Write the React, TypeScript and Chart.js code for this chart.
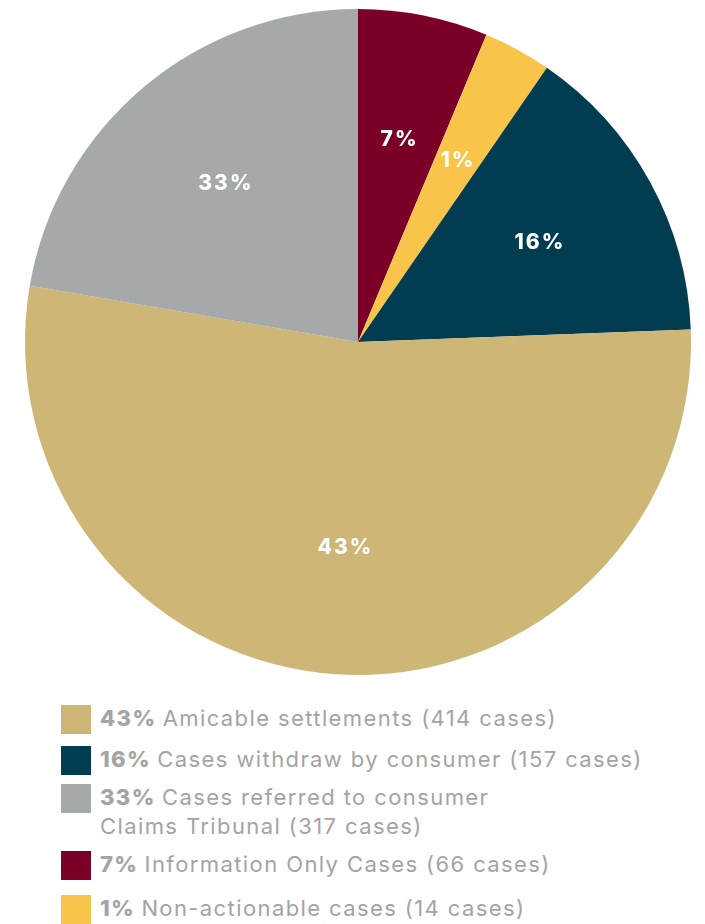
import React, { useEffect, useRef } from "react";
import { Chart, registerables } from "chart.js";

Chart.register(...registerables);

// Slices in drawing order (clockwise from 12 o'clock)
const sliceLabels = [
  "Information Only Cases",
  "Non-actionable cases",
  "Cases withdraw by consumer",
  "Amicable settlements",
  "Cases referred to consumer\nClaims Tribunal",
];
// Slice sizes as drawn in the picture (share of the full circle)
const sliceShares = [6.3, 3.3, 14.8, 53.3, 22.3];
const percentLabels = ["7%", "1%", "16%", "43%", "33%"];
const caseCounts = [66, 14, 157, 414, 317];
const sliceColors = ["#7a0027", "#f8c54a", "#023c50", "#ceb676", "#a6a9aa"];
// Legend order (indexes into the slice arrays)
const legendOrder = [3, 2, 4, 0, 1];

const labelPlugin = {
  id: "sliceLabels",
  afterDatasetsDraw(chart: any) {
    const ctx = chart.ctx;
    const meta = chart.getDatasetMeta(0);
    ctx.save();
    ctx.fillStyle = "#ffffff";
    ctx.font = "800 21px Inter";
    try {
      (ctx as any).letterSpacing = "2px";
    } catch (e) {}
    ctx.textAlign = "center";
    ctx.textBaseline = "middle";
    meta.data.forEach((arc: any, i: number) => {
      const p = arc.getProps(["x", "y", "startAngle", "endAngle", "outerRadius"], true);
      const mid = (p.startAngle + p.endAngle) / 2;
      const r = p.outerRadius * 0.62;
      ctx.fillText(percentLabels[i], p.x + Math.cos(mid) * r + 1, p.y + Math.sin(mid) * r);
    });
    ctx.restore();
  },
};

const rowStyles = [
  { top: 704 },
  { top: 745 },
  { top: 783 },
  { top: 850 },
  { top: 894 },
];

export default function App() {
  const ref = useRef<HTMLCanvasElement | null>(null);

  useEffect(() => {
    if (!ref.current) return;
    const chart = new Chart(ref.current, {
      type: "pie",
      data: {
        labels: sliceLabels,
        datasets: [
          {
            data: sliceShares,
            backgroundColor: sliceColors,
            borderWidth: 0,
            hoverOffset: 0,
          },
        ],
      },
      options: {
        animation: false,
        responsive: false,
        radius: 333,
        layout: { padding: { left: 11, top: 0, right: 0, bottom: 0 } },
        plugins: {
          legend: { display: false },
          tooltip: { enabled: false },
        },
        events: [],
      },
      plugins: [labelPlugin],
    });
    return () => chart.destroy();
  }, []);

  return (
    <div
      style={{
        position: "absolute",
        left: 0,
        top: 0,
        width: 705,
        height: 924,
        overflow: "hidden",
        background: "#ffffff",
        fontFamily: "Inter, sans-serif",
      }}
    >
      <canvas ref={ref} width={705} height={684} style={{ position: "absolute", left: 0, top: 0 }} />
      {legendOrder.map((idx, k) => {
        const lines = sliceLabels[idx].split("\n");
        return (
          <div
            key={k}
            style={{
              position: "absolute",
              left: 61,
              top: rowStyles[k].top,
              display: "flex",
              alignItems: "flex-start",
            }}
          >
            <div style={{ width: 30, height: 29, marginTop: 1, background: sliceColors[idx], flex: "none" }} />
            <div
              style={{
                marginLeft: 9,
                fontSize: 22,
                lineHeight: "29px",
                color: "#a3a4a6",
                letterSpacing: "1.4px",
                whiteSpace: "nowrap",
              }}
            >
              {lines.map((ln, j) => (
                <div key={j}>
                  {j === 0 && <b style={{ fontWeight: 800 }}>{percentLabels[idx]} </b>}
                  {ln}
                  {j === lines.length - 1 && ` (${caseCounts[idx]} cases)`}
                </div>
              ))}
            </div>
          </div>
        );
      })}
    </div>
  );
}
